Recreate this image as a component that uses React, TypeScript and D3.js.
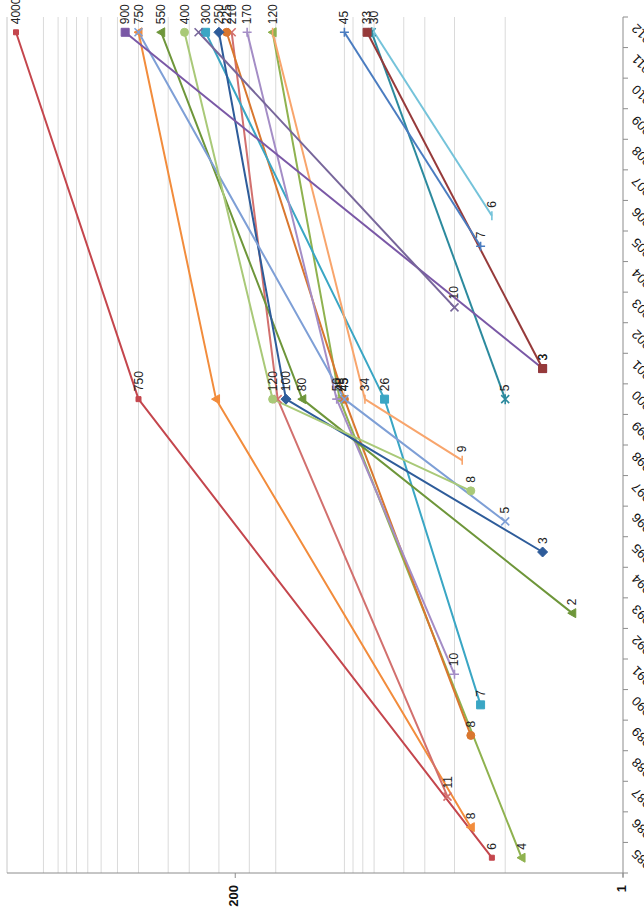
import React from 'react';
import * as d3 from 'd3';

// Categories (bottom -> top of the rotated chart)
const YEARS = ['1985','1986','1987','1988','1989','1990','1991','1992','1993','1994','1995','1996','1997','1998','1999','2000','2001','2002','2003','2004','2005','2006','2007','2008','2009','2010','2011','2012'];

// Value axis (log) labels and light gridlines
const VALUE_TICKS = [1, 200];
const GRID_VALUES = [5, 10, 15, 20, 30, 35, 40, 45, 115, 165, 250, 375, 500, 750, 1000, 1250, 1500, 1750, 2000, 2250, 2750];

// Series: [year, value]
const S_RED = [[1985, 6], [2000, 750], [2012, 4000]];
const S_GREEN = [[1985, 4], [2000, 48], [2012, 120]];
const S_ORANGE = [[1986, 8], [2000, 260], [2012, 750]];
const S_ROSE = [[1987, 11], [2000, 112], [2012, 210]];
const S_BROWN = [[1989, 8], [2000, 45], [2012, 225]];
const S_AQUA = [[1990, 7], [2000, 26], [2012, 300]];
const S_LAVENDER = [[1991, 10], [2000, 50], [2012, 170]];
const S_DKGREEN = [[1993, 2], [2000, 80], [2012, 550]];
const S_DKBLUE = [[1995, 3], [2000, 100], [2012, 250]];
const S_LTBLUE = [[1996, 5], [2000, 45], [2012, 750]];
const S_LTGREEN = [[1997, 8], [2000, 120], [2012, 400]];
const S_PEACH = [[1998, 9], [2000, 34], [2012, 120]];
const S_TEAL = [[2000, 5], [2012, 31]];
const S_PURPLE = [[2001, 3], [2012, 900]];
const S_DKRED = [[2001, 3], [2012, 33]];
const S_VIOLET = [[2003, 10], [2012, 330]];
const S_BLUE = [[2005, 7], [2012, 45]];
const S_SKY = [[2006, 6], [2012, 30]];

const SERIES = [
  { data: S_GREEN, color: '#8FB24F', marker: 'triangle', hide: [2012] },
  { data: S_ORANGE, color: '#F28C3C', marker: 'triangle', hide: [2000] },
  { data: S_ROSE, color: '#D2706E', marker: 'x', hide: [2000] },
  { data: S_BROWN, color: '#D9772F', marker: 'circle', hide: [] },
  { data: S_AQUA, color: '#3AA6C4', marker: 'square', hide: [] },
  { data: S_LAVENDER, color: '#A48DC6', marker: 'plus', hide: [] },
  { data: S_DKGREEN, color: '#6E963A', marker: 'triangle', hide: [] },
  { data: S_DKBLUE, color: '#2E5C9A', marker: 'diamond', hide: [] },
  { data: S_LTBLUE, color: '#7E9FD6', marker: 'x', hide: [2012] },
  { data: S_LTGREEN, color: '#A9C978', marker: 'circle', hide: [] },
  { data: S_PEACH, color: '#F8A56C', marker: 'dash', hide: [] },
  { data: S_TEAL, color: '#2C8A9E', marker: 'star', hide: [2012] },
  { data: S_PURPLE, color: '#7A58A6', marker: 'square', hide: [] },
  { data: S_DKRED, color: '#963A3A', marker: 'square', hide: [] },
  { data: S_VIOLET, color: '#77669A', marker: 'x', hide: [2012] },
  { data: S_BLUE, color: '#4A7CC0', marker: 'plus', hide: [] },
  { data: S_SKY, color: '#74C3DA', marker: 'dash', hide: [] },
  { data: S_RED, color: '#C4464D', marker: 'smallsquare', hide: [] },
];

const W = 644;
const H = 909;
const AXIS_X = 623;
const TOP = 17;
const BOTTOM = 873;
const LEFT = 7;
const FONT = 'Liberation Sans, Arial, Helvetica, sans-serif';

function markerPath(type: string): { d: string; fill: boolean } {
  switch (type) {
    case 'triangle':
      return { d: 'M-4.5,0L3.5,-4.5L3.5,4.5Z', fill: true };
    case 'square':
      return { d: 'M-4,-4h8v8h-8Z', fill: true };
    case 'smallsquare':
      return { d: 'M-2.5,-2.5h5v5h-5Z', fill: true };
    case 'diamond':
      return { d: 'M0,-5L5,0L0,5L-5,0Z', fill: true };
    case 'circle':
      return { d: d3.symbol().type(d3.symbolCircle).size(50)() || '', fill: true };
    case 'x':
      return { d: 'M-4,-4L4,4M-4,4L4,-4', fill: false };
    case 'plus':
      return { d: 'M-4.5,0L4.5,0M0,-4.5L0,4.5', fill: false };
    case 'star':
      return { d: 'M-4,-4L4,4M-4,4L4,-4M0,-5L0,5', fill: false };
    case 'dash':
    default:
      return { d: 'M0,-4.5L0,4.5', fill: false };
  }
}

export default function App() {
  const x = d3.scaleLog().domain([1, 4000]).range([AXIS_X, 16]);
  const y = d3.scalePoint<string>().domain(YEARS).range([BOTTOM, TOP]).padding(0.5);
  const step = y.step();
  const yy = (yr: number) => y(String(yr)) as number;

  const line = d3
    .line<number[]>()
    .x((d) => x(d[1]))
    .y((d) => yy(d[0]));

  const boundaries = d3.range(YEARS.length + 1).map((i) => BOTTOM - i * step);

  return (
    <svg
      width={W}
      height={H}
      style={{ position: 'absolute', left: 0, top: 0, background: '#fff' }}
      fontFamily={FONT}
    >
      {/* gridlines */}
      {GRID_VALUES.map((v) => (
        <line key={'g' + v} x1={x(v)} x2={x(v)} y1={TOP} y2={BOTTOM} stroke="#dadada" strokeWidth={1} />
      ))}
      {/* left border */}
      <line x1={LEFT} x2={LEFT} y1={TOP} y2={BOTTOM} stroke="#c8c8c8" />
      {/* bottom value axis */}
      <line x1={LEFT} x2={AXIS_X} y1={BOTTOM} y2={BOTTOM} stroke="#8c8c8c" />
      {VALUE_TICKS.map((v) => (
        <g key={'vt' + v}>
          <line x1={x(v)} x2={x(v)} y1={BOTTOM} y2={BOTTOM + 5} stroke="#8c8c8c" />
          <text
            transform={`translate(${x(v) - 2},${BOTTOM + 12}) rotate(-90)`}
            textAnchor="end"
            dominantBaseline="central"
            fontSize={13}
            fontWeight="bold"
            fill="#111"
          >
            {v}
          </text>
        </g>
      ))}
      {/* category axis */}
      <line x1={AXIS_X} x2={AXIS_X} y1={TOP} y2={BOTTOM + 4} stroke="#8c8c8c" />
      {boundaries.map((b, i) => (
        <line key={'ct' + i} x1={AXIS_X} x2={AXIS_X + 5} y1={b} y2={b} stroke="#8c8c8c" />
      ))}
      {YEARS.map((yr) => (
        <text
          key={'cl' + yr}
          transform={`translate(${AXIS_X + 11},${(y(yr) as number) - 6}) rotate(-135)`}
          textAnchor="end"
          dominantBaseline="central"
          fontSize={13}
          fill="#111"
        >
          {yr}
        </text>
      ))}
      {/* series lines */}
      {SERIES.map((s, i) => (
        <path
          key={'l' + i}
          d={line(s.data as number[][]) || ''}
          fill="none"
          stroke={s.color}
          strokeWidth={2}
          strokeLinejoin="round"
        />
      ))}
      {/* markers */}
      {SERIES.map((s, i) => {
        const m = markerPath(s.marker);
        return (
          <g key={'m' + i}>
            {(s.data as number[][]).map((d, j) => (
              <path
                key={j}
                transform={`translate(${x(d[1])},${yy(d[0])})`}
                d={m.d}
                fill={m.fill ? s.color : 'none'}
                stroke={s.color}
                strokeWidth={m.fill ? 1 : 1.6}
              />
            ))}
          </g>
        );
      })}
      {/* data labels */}
      {SERIES.map((s, i) => (
        <g key={'t' + i}>
          {(s.data as number[][])
            .filter((d) => !s.hide.includes(d[0]))
            .map((d, j) => (
              <text
                key={j}
                transform={`translate(${x(d[1])},${yy(d[0]) - 8}) rotate(-90)`}
                textAnchor="start"
                dominantBaseline="central"
                fontSize={12}
                fill="#222"
              >
                {d[1]}
              </text>
            ))}
        </g>
      ))}
    </svg>
  );
}
